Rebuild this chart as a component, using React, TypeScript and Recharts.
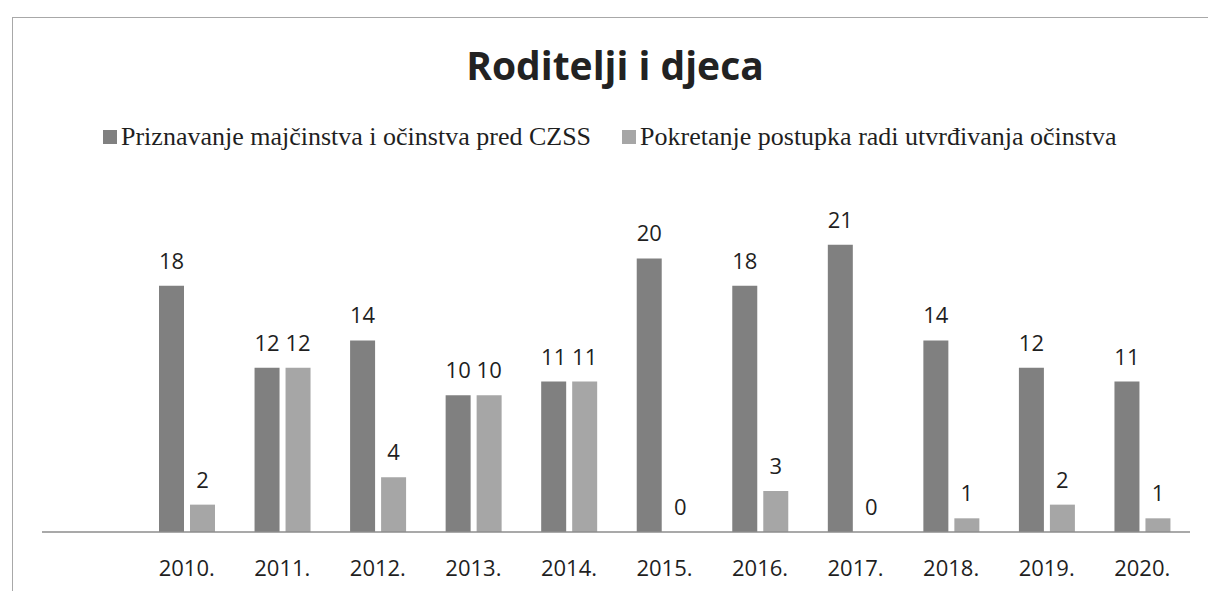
import { BarChart, Bar, XAxis, YAxis, LabelList } from 'recharts'

const years = ['2010.', '2011.', '2012.', '2013.', '2014.', '2015.', '2016.', '2017.', '2018.', '2019.', '2020.']
const priznavanje = [18, 12, 14, 10, 11, 20, 18, 21, 14, 12, 11]
const pokretanje = [2, 12, 4, 10, 11, 0, 3, 0, 1, 2, 1]

const seriesNames = [
  'Priznavanje majčinstva i očinstva pred CZSS',
  'Pokretanje postupka radi utvrđivanja očinstva',
]
const seriesColors = ['#808080', '#a6a6a6']

const data = years.map((year, i) => ({
  year,
  a: priznavanje[i],
  b: pokretanje[i],
}))

const sans = '"Open Sans", sans-serif'

// value labels drawn by hand so that zero-height bars still get their "0"
function barLabel(props: any) {
  const { x, y, width, value } = props
  return (
    <text x={x + width / 2} y={y - 17} textAnchor="middle" fill="#1f1f1f" fontSize={22} fontFamily={sans}>
      {value}
    </text>
  )
}

export default function App() {
  return (
    <div style={{ position: 'absolute', left: 0, top: 0, width: 1208, height: 591, background: '#fff', overflow: 'hidden' }}>
      <div style={{ position: 'absolute', left: 12, top: 17, width: 1196, height: 574, borderLeft: '1px solid #a8a8a8', borderTop: '1px solid #a8a8a8' }} />
      <div
        style={{
          position: 'absolute',
          left: 0,
          width: 1230,
          top: 45,
          textAlign: 'center',
          fontFamily: sans,
          fontWeight: 700,
          fontSize: 39,
          lineHeight: '39px',
          color: '#222',
        }}
      >
        Roditelji i djeca
      </div>
      <div
        style={{
          position: 'absolute',
          left: 103,
          top: 122,
          display: 'flex',
          alignItems: 'center',
          fontFamily: '"Liberation Serif", serif',
          fontSize: 26,
          color: '#1f1f1f',
          whiteSpace: 'nowrap',
        }}
      >
        {seriesNames.map((name, i) => (
          <div key={name} style={{ display: 'flex', alignItems: 'center', marginRight: i === 0 ? 31 : 0 }}>
            <span style={{ display: 'inline-block', width: 14, height: 14, background: seriesColors[i], marginRight: 4 }} />
            <span>{name}</span>
          </div>
        ))}
      </div>
      <div style={{ position: 'absolute', left: 0, top: 0 }}>
        <BarChart width={1208} height={591} data={data} margin={{ top: 190, right: 18, bottom: 19, left: 42 }} barSize={25} barGap={6}>
          <XAxis
            dataKey="year"
            padding={{ left: 97, right: 0 }}
            tickLine={false}
            tickSize={0}
            tickMargin={28}
            height={40}
            axisLine={{ stroke: '#8c8c8c', strokeWidth: 1.5 }}
            tick={{ fill: '#1f1f1f', fontSize: 22, fontFamily: sans }}
          />
          <YAxis hide domain={[0, 25]} />
          <Bar dataKey="a" name={seriesNames[0]} fill={seriesColors[0]} isAnimationActive={false}>
            <LabelList dataKey="a" content={barLabel} />
          </Bar>
          <Bar dataKey="b" name={seriesNames[1]} fill={seriesColors[1]} minPointSize={0.01} isAnimationActive={false}>
            <LabelList dataKey="b" content={barLabel} />
          </Bar>
        </BarChart>
      </div>
    </div>
  )
}
